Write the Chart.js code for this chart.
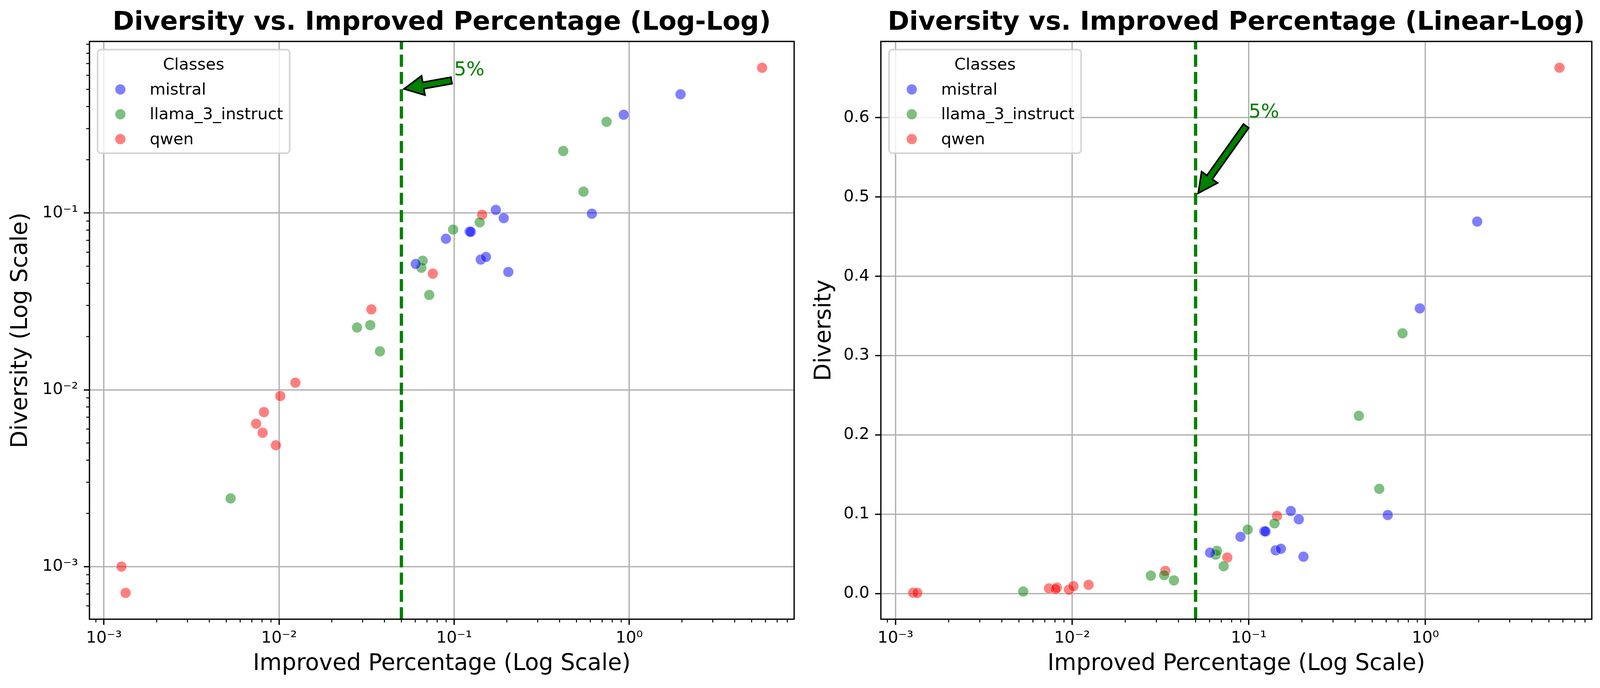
<!DOCTYPE html>
<html>
<head>
<meta charset="utf-8">
<script src="https://cdn.jsdelivr.net/npm/chart.js@4.4.1/dist/chart.umd.min.js"></script>
<style>
html,body{margin:0;padding:0;background:#fff;overflow:hidden;}
#wrap{position:relative;background:#fff;overflow:hidden;}
canvas{position:absolute;top:0;display:block;}
</style>
</head>
<body>
<div id="wrap"></div>
<script>
// ---------------- data ----------------
const classes = ['mistral', 'llama_3_instruct', 'qwen'];
const mistralX = [0.0604, 0.0898, 0.1225, 0.1245, 0.142, 0.152, 0.173, 0.192, 0.204, 0.612, 0.930, 1.964];
const mistralY = [0.0515, 0.0715, 0.0785, 0.0782, 0.0545, 0.0564, 0.104, 0.0935, 0.0464, 0.099, 0.3595, 0.469];
const llamaX = [0.00529, 0.0279, 0.0332, 0.0377, 0.0650, 0.0661, 0.0721, 0.0987, 0.140, 0.420, 0.548, 0.742];
const llamaY = [0.00243, 0.0225, 0.0232, 0.0165, 0.0490, 0.0537, 0.0344, 0.0806, 0.0885, 0.224, 0.132, 0.328];
const qwenX = [0.00126, 0.00133, 0.0074, 0.0082, 0.00806, 0.0096, 0.01017, 0.0124, 0.0337, 0.0756, 0.1445, 5.74];
const qwenY = [0.00100, 0.00071, 0.00643, 0.00748, 0.00572, 0.00486, 0.00922, 0.01097, 0.0285, 0.0454, 0.0977, 0.663];
const thresholdX = 0.05;
const annotText = '5%';
const annotXY = [0.05, 0.5];
const annotTextXY = [0.1, 0.6];
const xMajorTicks = [1e-3, 1e-2, 1e-1, 1e0];
const yLogMajorTicks = [1e-3, 1e-2, 1e-1];
const yLinTicks = [0, 0.1, 0.2, 0.3, 0.4, 0.5, 0.6];
const titles = ['Diversity vs. Improved Percentage (Log-Log)', 'Diversity vs. Improved Percentage (Linear-Log)'];
const xTitle = 'Improved Percentage (Log Scale)';
const yTitles = ['Diversity (Log Scale)', 'Diversity'];
const legendTitle = 'Classes';

// ---------------- page / canvas setup ----------------
const W = Math.min(window.innerWidth || 4766, 4766);
const H = window.innerHeight || 1760;
const KY = H / 1760;
const KX = W / 4766;
const wrap = document.getElementById('wrap');
wrap.style.width = W + 'px';
wrap.style.height = H + 'px';
const halfW = Math.floor(W / 2);
function addCanvas(id, left, width) {
  const c = document.createElement('canvas');
  c.id = id; c.width = width; c.height = H;
  c.style.left = left + 'px'; c.style.width = width + 'px'; c.style.height = H + 'px';
  wrap.appendChild(c);
  return c;
}
const canvas1 = addCanvas('c1', 0, halfW);
const canvas2 = addCanvas('c2', halfW, W - halfW);

// ---------------- styling ----------------
const PT = 300 / 72;
const FAMILY = '"DejaVu Sans", sans-serif';
const FS_TICK = 10 * PT, FS_LABEL = 14 * PT, FS_TITLE = 16 * PT, FS_LEG = 10 * PT, FS_ANN = 49;
const seriesColors = ['rgba(0,0,255,0.5)', 'rgba(0,128,0,0.5)', 'rgba(255,0,0,0.5)'];
Chart.defaults.font.family = FAMILY;
Chart.defaults.color = '#000';

const allX = [...mistralX, ...llamaX, ...qwenX];
const allY = [...mistralY, ...llamaY, ...qwenY];
function logLimits(arr) {
  const lo = Math.log10(Math.min(...arr)), hi = Math.log10(Math.max(...arr));
  const m = (hi - lo) * 0.05;
  return [Math.pow(10, lo - m), Math.pow(10, hi + m)];
}
function linLimits(arr) {
  const lo = Math.min(...arr), hi = Math.max(...arr);
  const m = (hi - lo) * 0.05;
  return [lo - m, hi + m];
}
const xLim = logLimits(allX);
const yLogLim = logLimits(allY);
const yLinLim = linLimits(allY);

const SUP = {'-': '\u207B', '0': '\u2070', '1': '\u00B9', '2': '\u00B2', '3': '\u00B3', '4': '\u2074', '5': '\u2075', '6': '\u2076', '7': '\u2077', '8': '\u2078', '9': '\u2079'};
function logLabel(v) {
  const e = Math.round(Math.log10(v));
  return '10' + String(e).split('').map(c => SUP[c]).join('');
}
function pts(xs, ys) { return xs.map((x, i) => ({x: x, y: ys[i]})); }
function minorValues(min, max) {
  const out = [];
  for (let k = Math.floor(Math.log10(min)) - 1; k <= Math.floor(Math.log10(max)); k++) {
    for (let m = 2; m <= 9; m++) {
      const v = m * Math.pow(10, k);
      if (v > min && v < max) out.push(v);
    }
  }
  return out;
}
function nearest(arr, t) {
  let best = arr[0];
  for (const a of arr) if (Math.abs(a - t) < Math.abs(best - t)) best = a;
  return best;
}
function roundRectPath(ctx, x, y, w, h, r) {
  ctx.beginPath();
  ctx.moveTo(x + r, y);
  ctx.arcTo(x + w, y, x + w, y + h, r);
  ctx.arcTo(x + w, y + h, x, y + h, r);
  ctx.arcTo(x, y + h, x, y, r);
  ctx.arcTo(x, y, x + w, y, r);
  ctx.closePath();
}

function drawAnnotation(ctx, sx, sy) {
  const tx = sx.getPixelForValue(annotTextXY[0]), ty = sy.getPixelForValue(annotTextXY[1]);
  const ax = sx.getPixelForValue(annotXY[0]), ay = sy.getPixelForValue(annotXY[1]);
  ctx.font = FS_ANN + 'px ' + FAMILY;
  const tw = ctx.measureText(annotText).width;
  const top = ty - 0.76 * FS_ANN, bot = ty + 0.24 * FS_ANN;
  const sxp = nearest([tx, tx + tw / 2, tx + tw], ax);
  const syp = nearest([top, (top + bot) / 2, bot], ay);
  const dx = ax - sxp, dy = ay - syp, r = Math.hypot(dx, dy);
  const ux = dx / r, uy = dy / r;
  const shrink = 0.05 * r;
  const S = [sxp + ux * shrink, syp + uy * shrink];
  const T = [ax - ux * shrink, ay - uy * shrink];
  const nx = -uy, ny = ux;
  const hl = 12 * PT, hw = 12 * PT / 2, tw2 = 4 * PT / 2;
  const B = [T[0] - ux * hl, T[1] - uy * hl];
  ctx.beginPath();
  ctx.moveTo(S[0] + nx * tw2, S[1] + ny * tw2);
  ctx.lineTo(B[0] + nx * tw2, B[1] + ny * tw2);
  ctx.lineTo(B[0] + nx * hw, B[1] + ny * hw);
  ctx.lineTo(T[0], T[1]);
  ctx.lineTo(B[0] - nx * hw, B[1] - ny * hw);
  ctx.lineTo(B[0] - nx * tw2, B[1] - ny * tw2);
  ctx.lineTo(S[0] - nx * tw2, S[1] - ny * tw2);
  ctx.closePath();
  ctx.fillStyle = '#008000';
  ctx.fill();
  ctx.lineWidth = 1 * PT;
  ctx.lineJoin = 'miter';
  ctx.strokeStyle = '#000';
  ctx.stroke();
  ctx.fillStyle = '#008000';
  ctx.textAlign = 'left';
  ctx.textBaseline = 'alphabetic';
  ctx.fillText(annotText, tx, ty);
}

function drawLegend(ctx, ca) {
  const fs = FS_LEG;
  ctx.font = fs + 'px ' + FAMILY;
  const tw = Math.max(...classes.map(l => ctx.measureText(l).width));
  const bp = 0.4 * fs, hl = 2 * fs, htp = 0.8 * fs;
  const w = 2 * bp + hl + htp + tw;
  const h = 265 * KY;
  const x0 = ca.left + 0.5 * fs, y0 = ca.top + 0.5 * fs;
  roundRectPath(ctx, x0, y0, w, h, 0.2 * fs);
  ctx.fillStyle = 'rgba(255,255,255,0.8)';
  ctx.fill();
  ctx.lineWidth = 1 * PT;
  ctx.strokeStyle = 'rgba(204,204,204,0.8)';
  ctx.stroke();
  ctx.fillStyle = '#000';
  ctx.textAlign = 'center';
  ctx.textBaseline = 'alphabetic';
  ctx.fillText(legendTitle, x0 + w / 2, y0 + 51 * KY);
  classes.forEach((name, i) => {
    const cy = y0 + (102 + i * 63.5) * KY;
    ctx.beginPath();
    ctx.arc(x0 + bp + hl / 2, cy, 13.5, 0, Math.PI * 2);
    ctx.fillStyle = seriesColors[i];
    ctx.fill();
    ctx.lineWidth = 1.5;
    ctx.strokeStyle = 'rgba(255,255,255,0.5)';
    ctx.stroke();
    ctx.fillStyle = '#000';
    ctx.textAlign = 'left';
    ctx.fillText(name, x0 + bp + hl + htp, cy + 12.7);
  });
}

function makeDecor(yLog) {
  return {
    id: 'decor',
    afterDraw(chart) {
      const ctx = chart.ctx, ca = chart.chartArea, sx = chart.scales.x, sy = chart.scales.y;
      ctx.save();
      ctx.strokeStyle = '#000';
      ctx.lineWidth = 0.6 * PT;
      const ml = 2 * PT;
      for (const v of minorValues(sx.min, sx.max)) {
        const p = sx.getPixelForValue(v);
        ctx.beginPath(); ctx.moveTo(p, ca.bottom); ctx.lineTo(p, ca.bottom + ml); ctx.stroke();
      }
      if (yLog) {
        for (const v of minorValues(sy.min, sy.max)) {
          const p = sy.getPixelForValue(v);
          ctx.beginPath(); ctx.moveTo(ca.left, p); ctx.lineTo(ca.left - ml, p); ctx.stroke();
        }
      }
      ctx.lineWidth = 0.8 * PT;
      ctx.strokeStyle = '#000';
      ctx.strokeRect(ca.left, ca.top, ca.right - ca.left, ca.bottom - ca.top);
      drawAnnotation(ctx, sx, sy);
      drawLegend(ctx, ca);
      ctx.restore();
    }
  };
}

function gridOpts() {
  return {color: '#b0b0b0', lineWidth: 0.8 * PT, tickLength: 3.5 * PT, tickWidth: 0.8 * PT, tickColor: '#000', drawTicks: true, drawOnChartArea: true};
}

function buildChart(canvas, idx, yLog, yLim, yWidth, yTitlePad, padRight) {
  const seriesX = [mistralX, llamaX, qwenX], seriesY = [mistralY, llamaY, qwenY];
  const scatterSets = classes.map((name, i) => ({
    type: 'scatter',
    label: name,
    data: pts(seriesX[i], seriesY[i]),
    backgroundColor: seriesColors[i],
    borderColor: 'rgba(255,255,255,0.5)',
    borderWidth: 1.5,
    pointRadius: 13.5,
    pointHoverRadius: 13.5,
    order: 1
  }));
  const lineSet = {
    type: 'line',
    label: 'threshold',
    data: [{x: thresholdX, y: yLim[0]}, {x: thresholdX, y: yLim[1]}],
    borderColor: '#008000',
    borderWidth: 2 * PT,
    borderDash: [3.7 * 2 * PT, 1.6 * 2 * PT],
    borderCapStyle: 'butt',
    pointRadius: 0,
    showLine: true,
    fill: false,
    order: 0
  };
  const yScale = {
    type: yLog ? 'logarithmic' : 'linear',
    min: yLim[0], max: yLim[1],
    z: 1,
    afterBuildTicks: (s) => { s.ticks = (yLog ? yLogMajorTicks : yLinTicks).map(v => ({value: v})); },
    afterFit: (s) => { s.width = yWidth; },
    ticks: {
      callback: (v) => yLog ? logLabel(v) : Number(v).toFixed(1),
      autoSkip: false, padding: 3.5 * PT, font: {size: FS_TICK}, color: '#000'
    },
    grid: gridOpts(),
    border: {display: false},
    title: {display: true, text: yTitles[idx], font: {size: FS_LABEL}, color: '#000', padding: {top: yTitlePad, bottom: 0}}
  };
  return new Chart(canvas, {
    type: 'scatter',
    data: {datasets: [lineSet, ...scatterSets]},
    options: {
      responsive: false,
      devicePixelRatio: 1,
      animation: false,
      events: [],
      layout: {padding: {left: 0, right: padRight, top: 0, bottom: 0}},
      plugins: {
        legend: {display: false},
        tooltip: {enabled: false},
        title: {
          display: true, text: titles[idx], fullSize: false,
          font: {size: FS_TITLE, weight: 'bold'}, color: '#000',
          padding: {top: 18.4 * KY, bottom: 7.6 * KY}
        }
      },
      scales: {
        x: {
          type: 'logarithmic',
          min: xLim[0], max: xLim[1],
          z: 1,
          afterBuildTicks: (s) => { s.ticks = xMajorTicks.map(v => ({value: v})); },
          afterFit: (s) => { s.height = 176 * KY; },
          ticks: {callback: (v) => logLabel(v), autoSkip: false, maxRotation: 0, minRotation: 0, padding: 10, font: {size: FS_TICK}, color: '#000'},
          grid: gridOpts(),
          border: {display: false},
          title: {display: true, text: xTitle, font: {size: FS_LABEL}, color: '#000', padding: {top: 0, bottom: 26 * KY}}
        },
        y: yScale
      }
    },
    plugins: [makeDecor(yLog)]
  });
}

buildChart(canvas1, 0, true, yLogLim, 229, 19, Math.round(4 * KX));
buildChart(canvas2, 1, false, yLinLim, 207, 28, Math.round(25 * KX));
</script>
</body>
</html>
